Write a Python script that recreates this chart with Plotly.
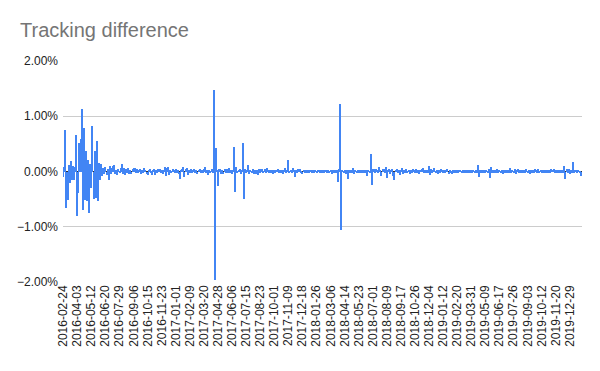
import pandas as pd
import plotly.graph_objects as go

# Tracking difference, in basis points (0.01 %), one value per 3-day bucket
td_2016 = [
    -10, 8, 75, -66, -51, 12, -20, 19, -15, 10, -15, 8, 66, -81, -39, 52, 58, 114, -69, 78,
    -51, 37, -54, 20, -76, 13, -30, 83, -49, 37, -48, 56, -54, 16, -15, 13, -8, 6, -5, 9,
    -6, 4, -15, 10, -4, 6, 10, 11, -5, 3, -7, 5, -3, 6, 13, -4, 7, -6, 4, -3,
    6, -5, 3, -4, 5, 7, 6, -3, 4, -2, 3, 5, -5, 3, -3, 7, 2, -4, -7, 3,
    4, -2, -7, 3, 5, -6, 3, -2, 4, 5, -3, 2, -4, 3, 8, -8, 7, 8, -6, 3,
    -3, 5, 2, -3,
]
td_2017 = [
    4, -3, 2, -5, -13, 3, 5, 8, -10, 4, 7, -6, 3, -2, 4, -3, 2, 5, -3, 2,
    -4, 3, 4, -2, 3, -3, 4, 8, -2, 3, -7, 2, -3, 4, -2, 148, -197, 43, 3, -27,
    4, 5, -5, 3, -4, 5, -3, 4, -2, 7, -3, 2, -4, 3, 44, -37, 8, -3, 2, 5,
    -4, 3, 51, -50, 4, -3, 2, 11, -4, 3, -2, 5, -5, 3, -4, 2, -7, 5, -3, 5,
    4, -2, 5, -3, 6, 2, -3, 3, -2, 2, -5, 3, -2, 2, 4, -3, 2, -2, 3, -4,
    2, 6, -3, 3, 20, -2, 3, -3, 6, 2, -10, 3, -2, 5, 4, 5, -2, -4, 2, -2,
    3, -2,
]
td_2018 = [
    2, -2, 1, 2, -2, 3, -1, 2, -2, 1, 3, -2, 2, -1, 2, -3, 1, 2, -2, 3,
    -2, 2, -5, 3, -2, 2, -3, 3, -19, 4, 122, -105, 3, -3, 2, -4, 3, -13, 2, -3,
    3, -2, 7, -4, 3, -2, 2, -3, 2, -2, 3, -2, 2, -3, 3, -8, 2, -3, 31, -25,
    5, 4, -3, 5, 3, -2, 8, 3, -8, 4, 5, -3, 8, -12, 3, 4, -4, 3, 5, -8,
    -16, 3, 4, -3, 2, -7, 3, 7, -5, 3, -2, 4, -3, 2, -4, 3, -2, 4, 3, -2,
    4, -3, 2, -4, 3, 5, 7, -3, 2, -2, 3, -3, 10, -7, 5, -3, 3, 7, -2, 3,
    -5, 2,
]
td_2019 = [
    -2, 5, 2, -3, 2, -2, 3, 5, -4, 2, -3, -5, 2, -2, 3, -2, 2, -3, 2, 3,
    -2, 2, -3, 2, -2, 3, -2, 2, -3, 3, -2, 2, -2, 3, -2, 11, -10, 2, -2, 3,
    -2, 2, -1, 2, -2, 4, -12, 8, -3, 2, -3, 3, -2, 4, -2, 3, -2, 2, -4, 2,
    -2, 3, -2, 2, -3, 7, -2, 3, -2, 4, -4, 2, 4, -2, 3, -2, 2, -3, 2, -2,
    4, -2, 2, -4, 2, -2, 3, -2, 4, 3, -2, 4, -2, 2, -2, 2, -3, 2, -2, 2,
    -2, 3, -2, 4, 3, 4, -2, 2, -2, 2, -2, 3, -2, 2, -3, 10, -13, 5, -3, 5,
    -5, 2, -2, 18, -3, 2, 2, -2, 3, -2, -8, -6,
]

tick_labels = [
    "2016-02-24", "2016-04-03", "2016-05-12", "2016-06-20", "2016-07-29", "2016-09-06",
    "2016-10-15", "2016-11-23", "2017-01-01", "2017-02-09", "2017-03-20", "2017-04-28",
    "2017-06-06", "2017-07-15", "2017-08-23", "2017-10-01", "2017-11-09", "2017-12-18",
    "2018-01-26", "2018-03-06", "2018-04-14", "2018-05-23", "2018-07-01", "2018-08-09",
    "2018-09-17", "2018-10-26", "2018-12-04", "2019-01-12", "2019-02-20", "2019-03-31",
    "2019-05-09", "2019-06-17", "2019-07-26", "2019-09-03", "2019-10-12", "2019-11-20",
    "2019-12-29",
]

values_bp = td_2016 + td_2017 + td_2018 + td_2019
values_pct = [v / 100 for v in values_bp]
dates = [d.strftime("%Y-%m-%d") for d in
         pd.date_range("2016-02-24", periods=len(values_pct), freq="3D")]

fig = go.Figure(go.Bar(
    x=dates, y=values_pct,
    marker=dict(color="#4285F4", line=dict(width=0)),
    hoverinfo="skip",
))

fig.update_layout(
    width=600, height=371,
    margin=dict(l=63, r=18, t=61, b=89),
    paper_bgcolor="white", plot_bgcolor="white",
    bargap=0,
    showlegend=False,
    hovermode=False,
    font=dict(family="Arial, Liberation Sans, sans-serif", size=12, color="#222222"),
    title=dict(
        text="Tracking difference",
        font=dict(family="Arial, Liberation Sans, sans-serif", size=20, color="#757575"),
        x=20 / 600, xanchor="left", xref="container",
        y=1 - 30 / 371, yanchor="middle", yref="container",
    ),
    xaxis=dict(
        type="category",
        range=[-0.25, len(values_pct) - 0.75],
        tickmode="array", tickvals=tick_labels, ticktext=tick_labels,
        tickangle=-90, showgrid=False, showline=False, ticks="",
        tickfont=dict(size=12, color="#222222"),
    ),
    yaxis=dict(
        range=[-2, 2], dtick=1, tick0=0,
        tickformat=".2f", ticksuffix="%",
        showgrid=True, gridcolor="#cccccc", gridwidth=1,
        zeroline=True, zerolinecolor="#333333", zerolinewidth=1,
        showline=False, ticks="", ticklabelstandoff=4,
        tickfont=dict(size=12, color="#222222"),
    ),
)

fig.write_html(
    "out.html",
    config={"displayModeBar": False},
    post_script="document.body.style.margin='0';document.body.style.padding='0';",
)
